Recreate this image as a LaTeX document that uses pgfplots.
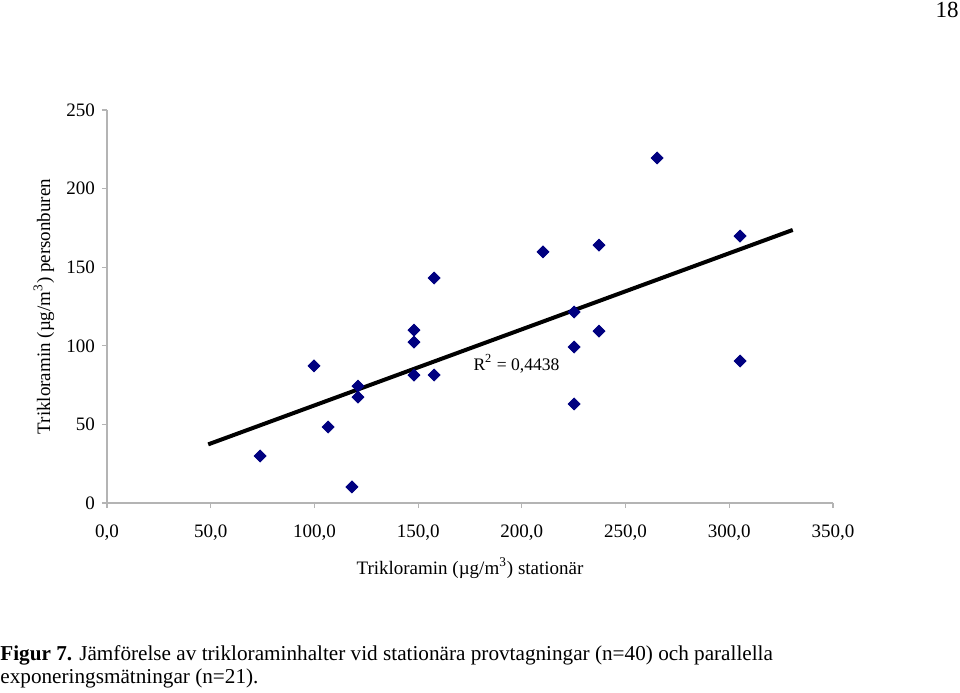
\documentclass[border=0pt]{standalone}
\usepackage{fontspec}
\setmainfont{Liberation Serif}
\usepackage{pgfplots}
\pgfplotsset{compat=1.18}
\definecolor{navymark}{HTML}{000080}
\definecolor{axisgray}{HTML}{B4B4B4}

\begin{document}
\begin{tikzpicture}
\useasboundingbox (-53.5pt,-94.5pt) rectangle (426.5pt,251.5pt);
\begin{axis}[
    scale only axis,
    width=363pt, height=196.5pt,
    xmin=0, xmax=350, ymin=0, ymax=250,
    axis x line=bottom, axis y line=left,
    axis line style={draw=axisgray, -, line width=0.6pt},
    tick align=outside, major tick length=2.5pt,
    tick style={draw=axisgray, line width=0.6pt},
    xtick={0,50,...,350}, ytick={0,50,...,250},
    font=\fontsize{9.5}{11}\selectfont,
    /pgf/number format/assume math mode=true,
    xticklabel style={/pgf/number format/fixed, /pgf/number format/fixed zerofill,
        /pgf/number format/precision=1, /pgf/number format/use comma, yshift=-5pt},
    xlabel={Trikloramin (µg/m\textsuperscript{3}) stationär},
    ylabel={Trikloramin (µg/m\textsuperscript{3}) personburen},
    xlabel style={at={(axis description cs:0.5,-0.165)}, anchor=center},
    ylabel style={at={(axis description cs:-0.087,0.5)}, anchor=center},
    clip=false,
]
\addplot[only marks, mark=square*, mark size=2.1pt,
    mark options={rotate=45, fill=navymark, draw=navymark}] table {
x y
73.8 29.9
99.8 87.2
106.6 48.3
118.1 10.2
121.0 74.4
121.0 67.4
148.0 110.0
148.0 102.4
148.0 81.4
157.7 143.1
157.7 81.4
210.2 159.7
225.2 121.5
225.2 99.2
225.2 63.0
237.2 164.1
237.2 109.4
265.2 219.5
305.2 169.8
305.2 90.3
};
\addplot[black, line width=2pt, no marks] coordinates {(48.8,37.3) (330.6,173.7)};
\node[anchor=base west, inner sep=0, font=\fontsize{8.8}{10}\selectfont] at (axis cs:176.5,84.6) {R\textsuperscript{2} = 0,4438};
\end{axis}
\node[anchor=base east, inner sep=0, font=\fontsize{11.5}{13}\selectfont] at (426pt,242.5pt) {18};
\node[anchor=base west, inner sep=0, font=\fontsize{10.6}{12}\selectfont] at (-53.5pt,-78.5pt)
    {\textbf{Figur 7.} Jämförelse av trikloraminhalter vid stationära provtagningar (n=40) och parallella};
\node[anchor=base west, inner sep=0, font=\fontsize{10.6}{12}\selectfont] at (-53.5pt,-90.4pt)
    {exponeringsmätningar (n=21).};
\end{tikzpicture}
\end{document}
